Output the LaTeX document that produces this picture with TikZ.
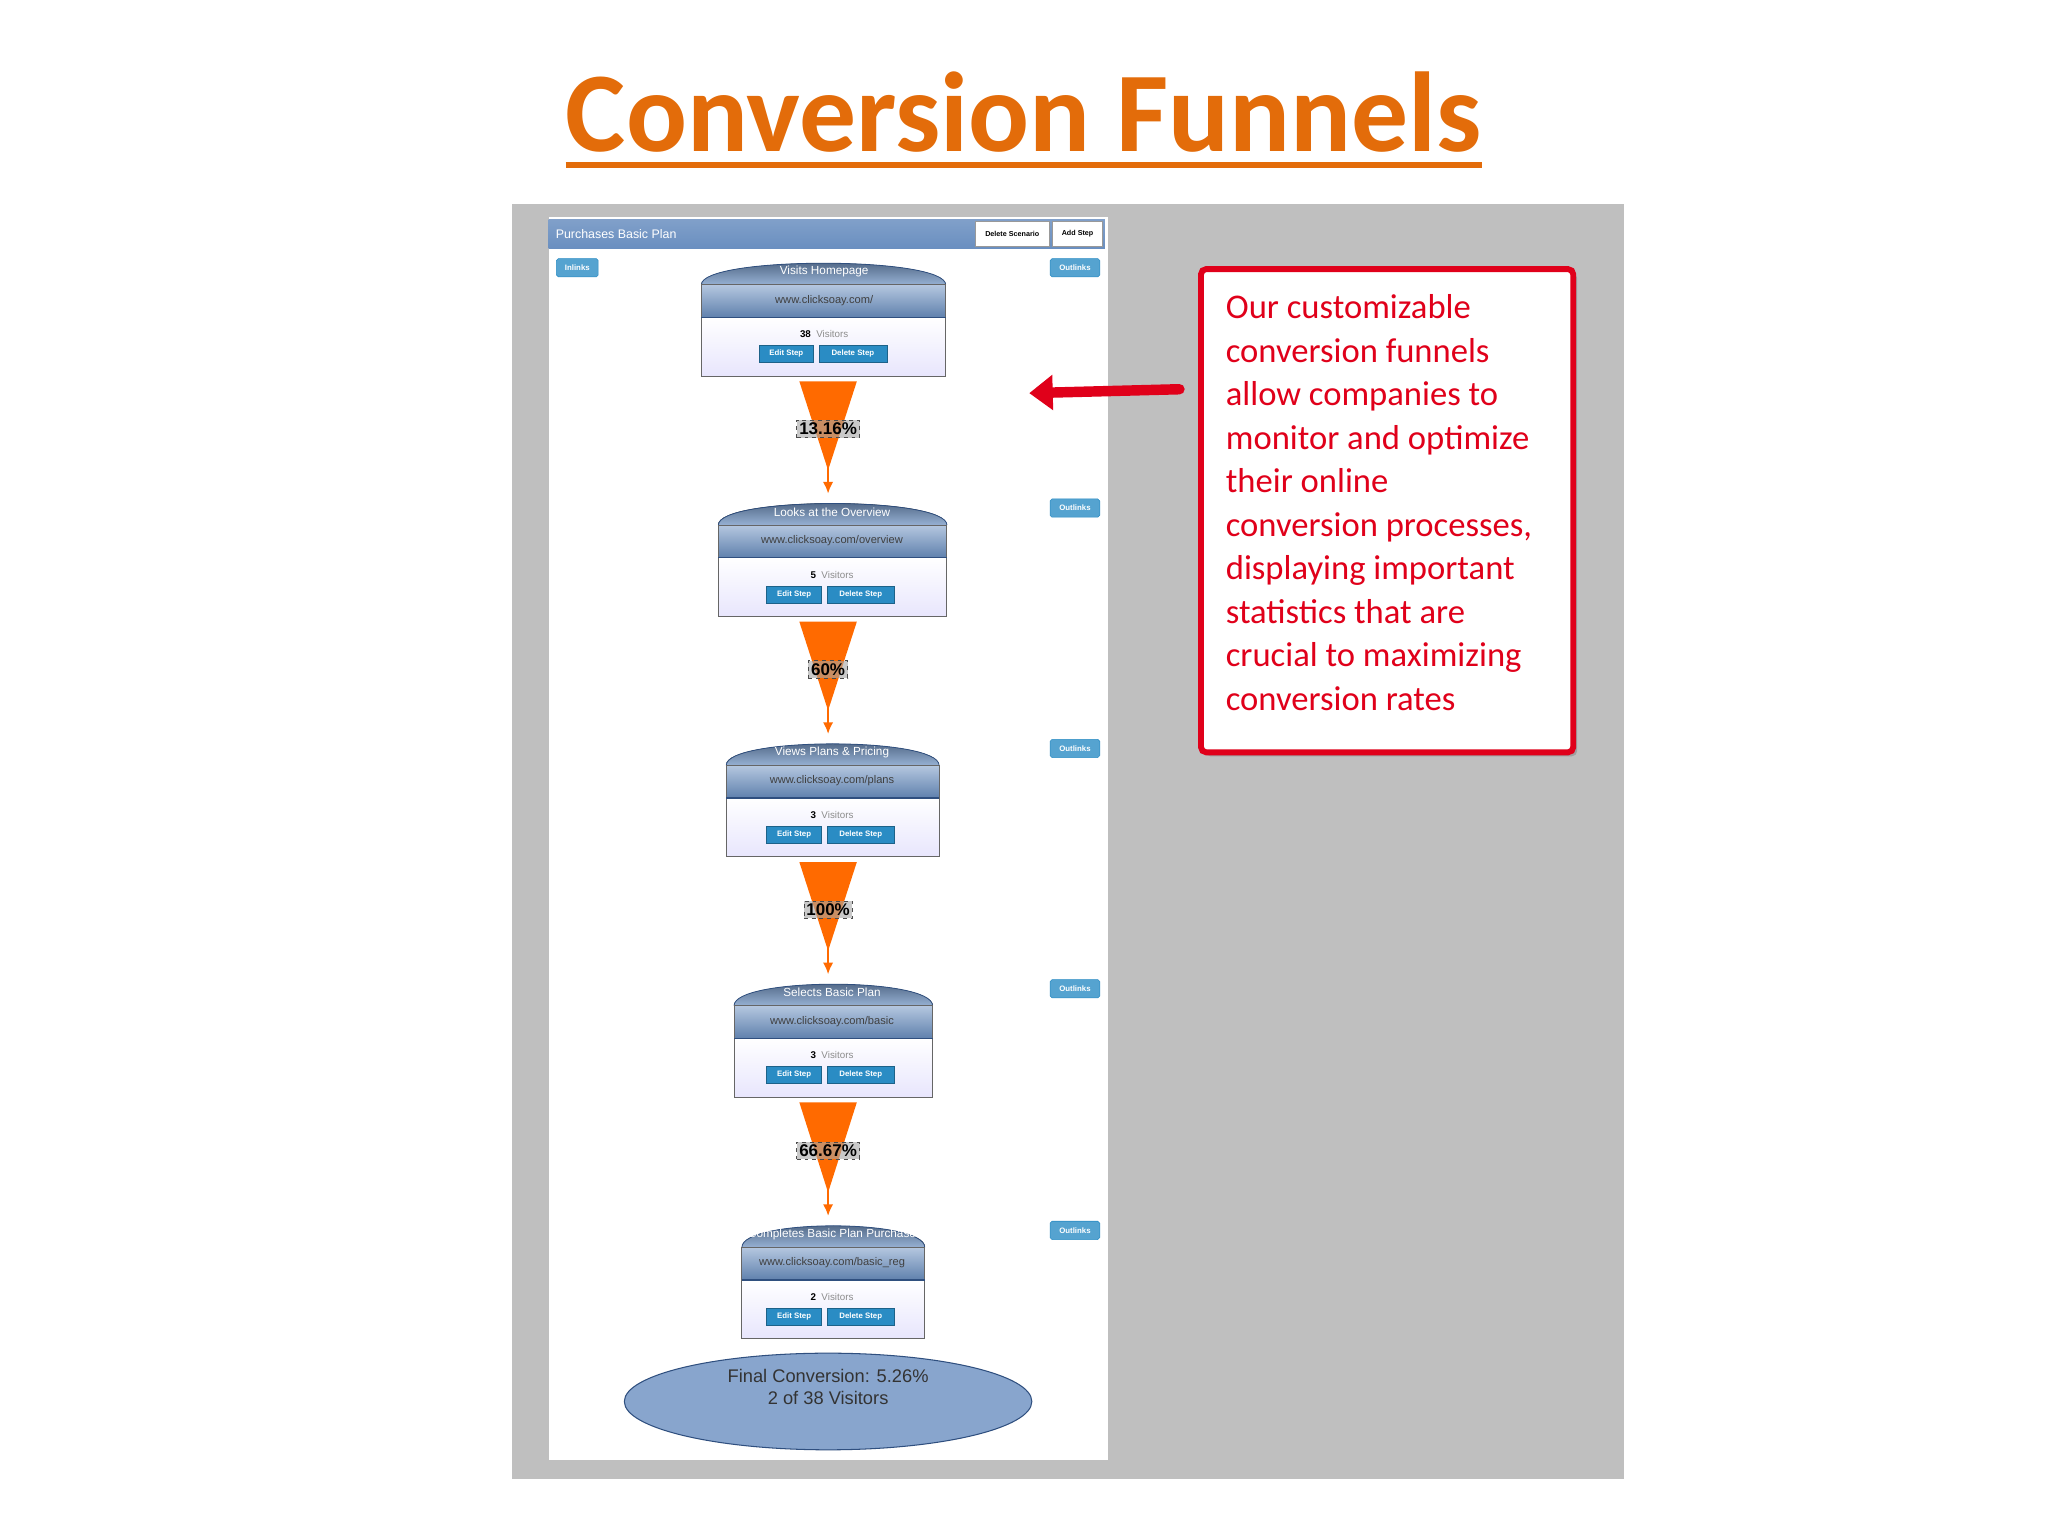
\documentclass[tikz,border=0pt]{standalone}
\usepackage{fontspec}
\setmainfont{Liberation Sans}
\newfontfamily\calfnt{Carlito}
\usetikzlibrary{shadows,arrows.meta,calc,shapes.geometric}
\definecolor{ttl}{HTML}{E36C0A}
\definecolor{pan}{HTML}{BFBFBF}
\definecolor{hdr}{HTML}{6A8FC0}
\definecolor{btn}{HTML}{2A8CC4}
\definecolor{dk}{HTML}{2F4F7F}
\definecolor{fun}{HTML}{FF6A00}
\definecolor{rd}{HTML}{E0001A}
\tikzset{
 btnbox/.style={fill=btn,draw=btn!70!black,line width=0.4pt,text=white,font=\fontsize{6}{6}\selectfont\bfseries,inner sep=0pt,minimum height=13pt},
 outl/.style={fill=btn!80!white,draw=btn,rounded corners=1.5pt,text=white,font=\fontsize{6}{6}\selectfont\bfseries,inner sep=0pt,minimum width=38pt,minimum height=14pt},
 pct/.style={draw=black!70,dashed,fill=black!35,fill opacity=0.6,text opacity=1,font=\fontsize{13}{13}\selectfont\bfseries,inner sep=2pt},
}
\newcommand\fstep[8]{% name x1 x2 top title url n center
 \fill[top color=hdr!60!black,bottom color=hdr!70!white] (#2,#4+20) .. controls (#2,#4-2) and (#3,#4-2) .. (#3,#4+20) -- cycle;
 \draw[dk,line width=0.6pt] (#2,#4+20) .. controls (#2,#4-2) and (#3,#4-2) .. (#3,#4+20);
 \fill[top color=hdr!50!white,bottom color=hdr!90!black] (#2,#4+20) rectangle (#3,#4+45);
 \fill[top color=white,bottom color=red!8!blue!10!white] (#2,#4+45) rectangle (#3,#4+90);
 \draw[black!60,line width=0.8pt] (#2,#4+20) rectangle (#3,#4+90);
 \draw[dk,line width=1pt] (#2,#4+45) -- (#3,#4+45);
 \node[text=white,font=\fontsize{9}{9}\selectfont] (#1t) at (#8,#4+10) {#5};
 \node[text=black!75,font=\fontsize{8.5}{9}\selectfont] (#1u) at (#8,#4+32) {#6};
 \node[font=\fontsize{7.5}{8}\selectfont] (#1v) at (#8,#4+58) {\textbf{#7}\ \ \textcolor{black!45}{Visitors}};
 \node[btnbox,minimum width=42pt] (#1e) at (#8-29,#4+73) {Edit Step};
 \node[btnbox,minimum width=52pt] (#1d) at (#8+22,#4+73) {Delete Step};
}
\newcommand\ffun[3]{% from to label
 \fill[fun] ([xshift=-22pt,yshift=-4pt]#1) -- ([xshift=22pt,yshift=-4pt]#1) -- ([yshift=22pt]#2) -- cycle;
 \draw[fun,line width=2pt,-{Latex[length=9pt,width=8pt]}] ([yshift=40pt]#2) -- ([yshift=4pt]#2);
 \node[pct] at ($(#1)!0.43!(#2)$) {#3};
}
\begin{document}
\begin{tikzpicture}[x=1pt,y=-1pt]
\useasboundingbox (0,0) rectangle (1568,1176);
\fill[white] (0,0) rectangle (1568,1176);
\node[text=ttl,font=\calfnt\bfseries\fontsize{87}{87}\selectfont,inner sep=0pt] (title) at (784,86) {Conversion Funnels};
\draw[ttl,line width=4.5pt] (433,126) -- (1135,126);
\fill[pan] (392,156) rectangle (1243,1132);
\fill[white] (420,166) rectangle (848,1118);
\fill[top color=hdr!85!white,bottom color=hdr] (420,168) rectangle (846,190);
\node[anchor=west,text=white,font=\fontsize{9.5}{10}\selectfont] (hd) at (422,179) {Purchases Basic Plan};
\node[fill=white,draw=black!40,font=\fontsize{5.5}{6}\selectfont\bfseries,minimum width=56pt,minimum height=19pt,inner sep=0pt] (ds) at (775,179) {Delete Scenario};
\node[fill=white,draw=black!40,font=\fontsize{5.5}{6}\selectfont\bfseries,minimum width=38pt,minimum height=19pt,inner sep=0pt] (as) at (825,179) {Add Step};
\node[outl,minimum width=32pt] (in) at (442,205) {Inlinks};
\foreach \y [count=\i] in {205,389,573,757,942} \node[outl] (o\i) at (823,\y) {Outlinks};
\fstep{s1}{537}{724}{198}{Visits Homepage}{www.clicksoay.com/}{38}{631}
\fstep{s2}{550}{725}{382}{Looks at the Overview}{www.clicksoay.com/overview}{5}{637}
\fstep{s3}{556}{719}{566}{Views Plans \& Pricing}{www.clicksoay.com/plans}{3}{637}
\fstep{s4}{562}{714}{750}{Selects Basic Plan}{www.clicksoay.com/basic}{3}{637}
\fstep{s5}{568}{708}{935}{Completes Basic Plan Purchase}{www.clicksoay.com/basic\_reg}{2}{637}
\coordinate (f1a) at (634,288); \coordinate (f1b) at (634,382);
\coordinate (f2a) at (634,472); \coordinate (f2b) at (634,566);
\coordinate (f3a) at (634,656); \coordinate (f3b) at (634,750);
\coordinate (f4a) at (634,840); \coordinate (f4b) at (634,935);
\ffun{f1a}{f1b}{13.16\%}
\ffun{f2a}{f2b}{60\%}
\ffun{f3a}{f3b}{100\%}
\ffun{f4a}{f4b}{66.67\%}
\node[ellipse,fill=hdr!80!white,draw=dk,line width=0.8pt,minimum width=312pt,minimum height=74pt,inner sep=0pt] (fin) at (634,1073) {};
\node[text=black!80,font=\fontsize{14}{17}\selectfont,align=center] (fint) at (634,1062) {Final Conversion: 5.26\%\\2 of 38 Visitors};
\node[draw=rd,line width=4.5pt,rounded corners=4pt,fill=white,drop shadow={opacity=0.5,shadow xshift=3pt,shadow yshift=-3pt},minimum width=285pt,minimum height=370pt,inner sep=0pt] (call) at (1062,391) {};
\node[anchor=north west,text=rd,align=left,font=\calfnt\fontsize{26.5}{33.3}\selectfont] (ct) at (935,222) {Our customizable\\conversion funnels\\allow companies to\\monitor and optimize\\their online\\conversion processes,\\displaying important\\statistics that are\\crucial to maximizing\\conversion rates};
\coordinate (ar) at (903,298);
\coordinate (arend) at (788,301);
\draw[rd,line width=8pt,line cap=round,-{Triangle[length=18pt,width=26pt]}] (ar) -- (arend);
\end{tikzpicture}
\end{document}
